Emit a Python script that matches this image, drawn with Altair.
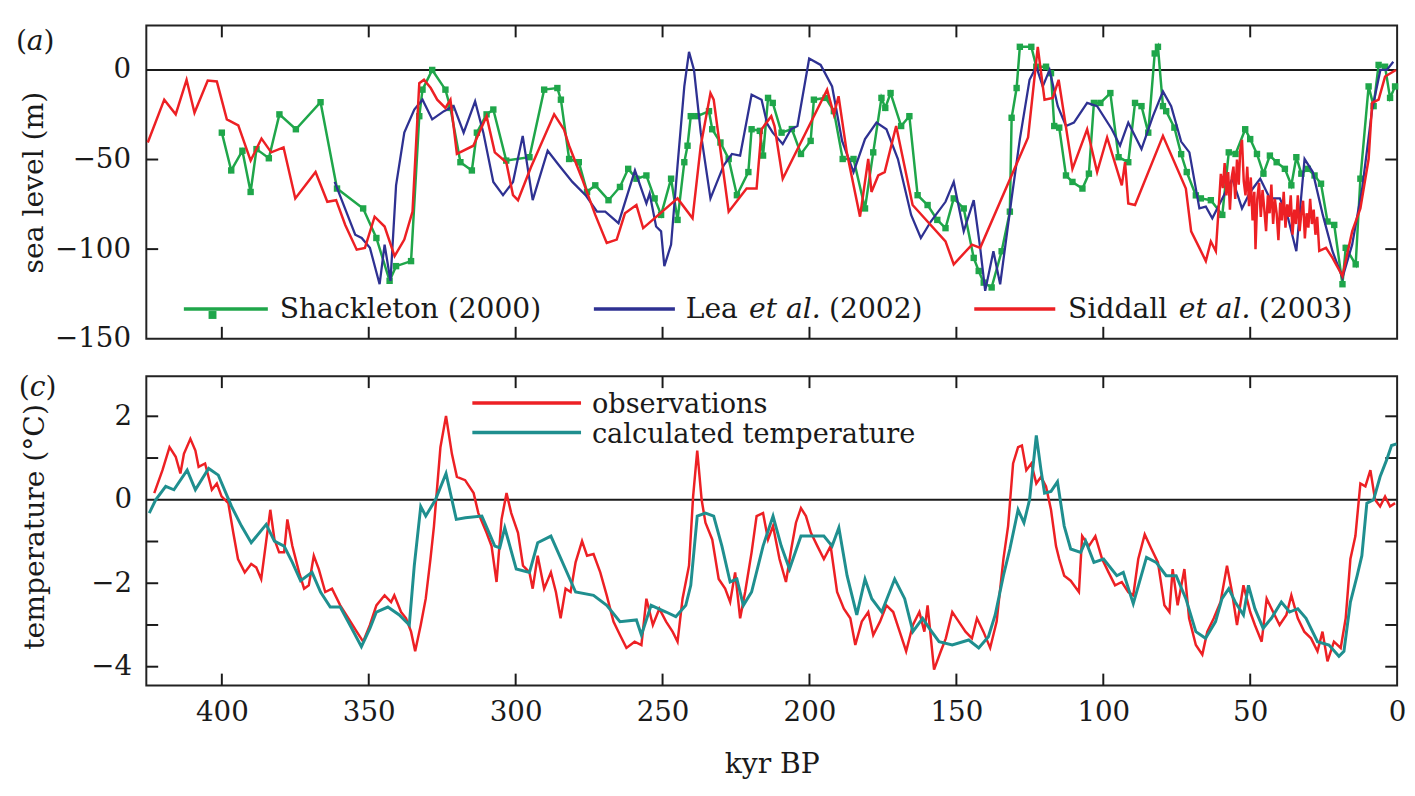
import altair as alt
import pandas as pd

# ---------------- data ----------------
shack_kyr = [400, 396.8, 393, 390.2, 388.2, 384, 380.4, 374.8, 366.4, 360.8, 351.9, 347.4, 342.9,
             340.7, 335.6, 332.8, 331.7, 328.4, 323.9, 322.2, 318.8, 314.9, 313.2, 309.9, 307.6,
             303.2, 295.3, 290.3, 285.8, 284.6, 281.8, 278.5, 275.7, 272.9, 268.4, 264.5, 261.7,
             258.9, 255.5, 252.7, 250.5, 247.1, 244.9, 242.6, 241.5, 240.4, 238.2, 234.2, 233.1,
             230.3, 227.5, 224.7, 220.8, 219.7, 216.9, 215.8, 214.1, 212.5, 209.5, 206, 202.9,
             199.6, 198.5, 194.5, 191.7, 188.7, 185, 181.1, 178.3, 175.5, 174.2, 172.4, 168.8,
             166, 163.2, 159.8, 156.5, 153.7, 150.9, 147.5, 144.1, 142.4, 140.7, 138, 134.6,
             131.8, 131.2, 129.5, 128.4, 124.5, 122.8, 119.5, 117.8, 116.7, 115, 112.7, 110.5,
             107.1, 104.9, 103.2, 101, 97.6, 94.8, 91.5, 89.2, 87, 84.7, 82.5, 81.4, 79.7, 78.6,
             75.8, 73.5, 71.6, 68.5, 66.8, 63.4, 59.5, 57.3, 55, 51.7, 50, 47.7, 45.5, 43.3, 41,
             38.2, 36, 34.3, 32.6, 30.4, 28.1, 25.9, 23.7, 21.4, 18.6, 17.5, 14.1, 12.5, 9.7, 8,
             6.3, 4.1, 2.4, 0.7]
shack_m = [-35, -56.1, -45.1, -68.1, -44.2, -49.3, -24.8, -33.1, -18, -66.2, -77.3, -93.8, -117.7,
           -109.5, -106.7, -25.8, -11, 0, -11, -21.2, -51.5, -56.1, -35, -24.8, -22.1,
           -50.6, -48.7, -11, -10.1, -16.6, -49.7, -51.5, -68.1, -64.4, -72.7, -65.3, -55.2,
           -60.7, -58.9, -71.7, -80.9, -60.7, -83.7, -51.5, -42.3, -25.8, -25.8, -23, -33.1,
           -40.5, -49.7, -69.9, -57, -33.1, -34, -47.8, -15.6, -18.4, -35, -33, -46.9,
           -39.6, -16.6, -15.6, -23, -49.7, -49.7, -77.3, -46, -15.6, -21.2, -12.9, -31.3,
           -25.8, -69.9, -75.4, -83.7, -88.3, -71.7, -77.3, -104.9, -112.2, -118.7, -121.4, -101.2,
           -79.1, -26.7, -10.1, 12.9, 12.9, 1.8, 1.8, -1.8, -31.3, -32.2, -58.9, -62.5,
           -66.2, -57.9, -18.4, -18.4, -12.9, -48.7, -51.5, -18.4, -20.2, -35, 9.2, 12.9, -20.2, -23,
           -32.2, -47, -57, -70, -71.7, -72.7, -80.9, -46, -46.9, -33.1, -38.6, -46.9, -57.9, -47.8, -51.5,
           -55.2, -64.4, -48.7, -57.9, -55.2, -58.9, -63.5, -84.6, -86.5, -119.6, -99.3, -108.5, -60.7, -9.2, -20.2,
           2.8, 1.8, -15.6, -9.2]

lea_kyr = [361.6, 354.6, 352.4, 349.6, 346.3, 344.6, 342.6, 340.7, 337.9, 334.5, 331.7, 328.4,
           324.4, 321.1, 317.7, 313.8, 311, 307.6, 304.3, 300.9, 297.6, 294.2, 289.1, 285.2,
           280.7, 276.2, 272.3, 269.5, 265, 259.4, 255.5, 254.4, 252.2, 250.5, 249.4, 247.1,
           244.9, 242.6, 241, 239.3, 237, 233.7, 229.2, 226.4, 223.6, 219.7, 216.3, 214.4,
           212.5, 209.1, 206.3, 204.1, 200.1, 196.2, 192.3, 188.9, 185, 181.1, 177.2, 173.8,
           169.9, 165.4, 162.1, 158.7, 153.7, 150.9, 147.5, 144.1, 141.9, 140.2, 137.4, 135.1,
           131.2, 128.4, 125.1, 122.8, 120.6, 118.3, 115.5, 112.7, 110, 105.5, 102.1, 97.1,
           94.3, 91.5, 87, 83.1, 79.7, 76.9, 73.5, 70.7, 67.3, 65.1, 62.9, 59.5, 56.1, 52.8,
           50, 46.6, 43.3, 39.9, 37.1, 34.3, 31.5, 28.7, 25.3, 22, 18.6, 15.3, 11.9, 8.5, 5.7,
           3.5, 1.3]
lea_m = [-62.5, -92, -93.8, -99.3, -119.6, -97.5, -117.7, -64.4, -35, -22.1, -16.6, -27.6,
         -23, -20.2, -35, -17.5, -35, -62.5, -69.9, -62.5, -36.8, -72.7, -45.1, -53.3,
         -62.5, -69.9, -79.1, -79.1, -85.5, -56.1, -74.5, -69, -87.4, -90.1, -109.5, -97.5,
         -53.3, -9.2, 10.1, 0, -35, -71.7, -53.3, -46.9, -47.8, -13.8, -16.6, -30,
         -35, -41.4, -33.1, -31.3, 6.4, 2.8, -9.2, -39.6, -57, -38.6, -29.4, -33.1,
         -49.7, -80.9, -93.8, -84.6, -73.6, -62.5, -90.1, -72.7, -99.3, -123.3, -101.2, -119.6,
         -71.7, -38.6, -5.5, 1.8, -9.2, 0, -20.2, -31.3, -29.4, -18.4, -20.2, -33.1,
         -42.3, -29.4, -44.2, -25.8, -12, -20.2, -40, -46, -77.3, -76.3, -82.8, -71.7, -60.7, -77.3,
         -68.1, -60.7, -71.7, -71.7, -82.8, -101.2, -49.7, -57, -80.9, -101.2, -115.9, -97.5, -66.2, -22.1, 0,
         0, 4.6]

sidd_kyr = [425.2, 419.6, 415.7, 412, 409.3, 404.8, 401.7, 398.3, 394.4, 390.2, 386.5, 383.2,
            379, 375, 368.1, 364.1, 361.1, 358, 354.1, 351.3, 348, 344.6, 341.2, 337.9, 335.1,
            332.8, 331.2, 328.9, 326.7, 323.9, 322.2, 320, 314.4, 309.9, 307.1, 303.2, 300.9,
            299.2, 294.8, 286.9, 283.6, 281.8, 277.4, 272.9, 269, 265.6, 262.8, 258.9, 256.6,
            244.9, 239.8, 237, 233.7, 232.6, 227.5, 221.4, 218, 216.3, 213, 211.9, 209.1, 194,
            191.7, 190.1, 187.3, 182.8, 180, 178.9, 176.6, 174.4, 170.5, 164.9, 153.7, 150.9,
            144.7, 141.9, 125.6, 122.3, 120, 117.2, 115.2, 110.5, 105.5, 102.1, 98.7, 93.7,
            92.6, 91.5, 89.2, 79.7, 71.9, 70.1, 67.3, 65.1, 63.4, 61.7,
            60.6, 60.0, 59.3, 58.7, 58.1, 57.5, 56.9, 56.3, 55.7, 55.1, 54.5, 53.9, 53.4, 52.8,
            52.2, 51.6, 51.0, 50.4, 49.8, 49.2, 48.6, 48.2, 47.6, 47.0, 46.4, 45.8, 45.2, 44.6,
            44.0, 43.4, 42.8, 42.2, 41.6, 41.0, 40.4, 39.8, 39.2, 38.6, 38.0, 37.4, 36.8, 36.2,
            35.6, 35.0, 34.4, 33.8, 33.2, 32.6, 32.0, 31.4, 30.8, 30.2, 29.6, 29.0, 28.4, 27.8,
            27.2, 26.5, 24.2, 22, 18.6, 15.3, 12.5, 9.7, 8.5, 6.3, 4.1, 0.4]
sidd_m = [-40.5, -16.6, -24.8, -5.5, -23.9, -5.9, -6.4, -27.6, -30.9, -50.6, -38.3, -46,
          -43.2, -71.7, -57, -73.6, -72.7, -86.5, -100.3, -99.3, -81.9, -87.4, -103.9, -94.7, -79.1,
          -7.4, -5.5, -10.1, -16.6, -21.2, -16.6, -46.9, -42.3, -25.8, -46, -51.5, -69.9,
          -72.7, -54.3, -24.8, -33.1, -42.3, -60.7, -80.9, -96.6, -94.7, -80, -75.4, -88.3,
          -71.7, -82.8, -42.3, -12.9, -16.6, -79.1, -66.2, -66.2, -33.1, -25.8, -31.3, -60.7, -11,
          -24.8, -14.7, -46, -81.9, -49.7, -68.1, -58.9, -57, -31.3, -75.4, -95.7, -108.5,
          -97.5, -99.3, -37.7, 12.9, -16.6, -15.6, -5.5, -55.2, -33.1, -57, -37.7, -64.4,
          -51.5, -74.5, -75.4, -36.8, -66.2, -90.1, -99.3, -106.7, -95.7, -101.2,
          -73.6, -58, -66, -52, -70, -57, -78, -60, -54, -72, -50, -64, -45, -39,
          -62, -70, -54, -76, -60, -84, -68, -100, -72, -63, -82, -67, -78, -90,
          -70, -80, -64, -86, -72, -80, -95, -74, -84, -68, -88, -75, -82, -70,
          -92, -78, -86, -70, -90, -80, -73, -94, -80, -88, -72, -86, -78, -92,
          -82, -101, -99.3, -104.9, -115, -90.1, -77.3, -49.7, -18.4, -16.6, -3.7, 0]

obs_kyr = [423, 420.2, 417.8, 415.7, 414.1, 412.9, 410.7, 409, 407.9, 405.7, 403.4, 401.7, 400.1,
           397.8, 396.1, 394.5, 392.2, 390, 388.3, 386.6, 384.9, 383.5, 382.1, 380.5, 378.8,
           377.7, 376, 373.7, 372, 370.4, 368.7, 367, 364.8, 362.5, 359.7, 356.9, 354.1, 351.9,
           349.6, 347.4, 344.6, 342.4, 341.3, 339, 337.3, 335.6, 334.2, 332.3, 330.6, 329,
           327.8, 325.6, 323.7, 321.7, 320, 317.2, 314.3, 312.7, 309.9, 308.2, 306.5, 304.8,
           303.1, 301.5, 299.2, 297.5, 295.3, 294.2, 292.5, 290.3, 288, 286.3, 284.7, 283,
           281.3, 279.6, 277.4, 275.7, 273.5, 271.2, 269, 266.7, 264.5, 262.3, 259.5, 257.2,
           255.5, 253.3, 251.1, 248.8, 246.6, 244.9, 243.2, 241, 239.6, 238.2, 236.7, 235.4,
           233.1, 230.9, 228.7, 227, 225.3, 223.6, 221.9, 219.7, 218, 215.8, 214.1, 212.4,
           210.2, 208, 206.2, 204.6, 202.9, 201.2, 199.5, 197.3, 195.1, 192.8, 190.6, 188.3,
           186.1, 184.4, 182.2, 180, 178.3, 176, 173.8, 171.5, 169.3, 167.1, 164.8, 162.6,
           160.9, 159.8, 157.6, 155.3, 153.6, 151.4, 149.2, 146.9, 144.7, 143, 140.8, 138.5,
           136.3, 134, 132.4, 130.7, 129, 127.7, 126.2, 124.5, 122.8, 121.2, 119.5, 117.8,
           116.1, 115, 113.3, 111.1, 108.3, 107.2, 104.9, 102.7, 100.4, 98.2, 96, 93.7, 91.5,
           89.8, 88.1, 85.9, 83.6, 81.4, 79.2, 77.5, 76.4, 74.7, 72.4, 70.8, 68.5, 66.3, 64.6,
           62.4, 60.1, 57.9, 56.2, 54.5, 52.3, 50, 48.4, 46.1, 44.4, 42.2, 40, 37.7, 36, 33.8,
           31.6, 29.3, 27.1, 25.4, 23.7, 21.5, 19.2, 17.5, 15.9, 14.2, 12.5, 10.8, 9.1, 7.5,
           5.8, 4.1, 2.4, 0.7]
obs_t = [0.16, 0.71, 1.26, 1.03, 0.63, 1.1, 1.46, 1.18, 0.79, 0.87, 0.24, 0.39, 0.08,
         -0.08, -0.79, -1.42, -1.74, -1.54, -1.62, -1.9, -0.99, -0.24, -0.95, -1.26, -1.26,
         -0.47, -1.11, -1.74, -2.13, -2.05, -1.34, -1.66, -2.21, -2.13, -2.53, -2.84, -3.16, -3.4,
         -3.0, -2.53, -2.29, -2.45, -2.29, -2.69, -2.84, -3.16, -3.63, -3.0, -2.37, -1.42,
         -0.63, 1.26, 2.01, 1.1, 0.55, 0.47, 0.16, -0.32, -0.79, -1.11, -1.97, -0.47,
         0.16, -0.32, -0.79, -1.58, -1.74, -2.13, -1.34, -2.13, -1.74, -2.21, -2.84, -2.13,
         -2.21, -1.5, -0.99, -1.34, -1.3, -1.74, -2.29, -2.92, -3.24, -3.55, -3.4, -3.48,
         -2.37, -3.0, -2.61, -2.92, -3.16, -3.4, -2.37, -1.58, 0.08, 1.18, 0, -0.55,
         -0.95, -1.9, -2.13, -2.45, -1.74, -2.84, -2.21, -1.26, -0.39, -0.32, -0.95, -0.63,
         -1.42, -1.97, -1.18, -0.55, -0.2, -0.39, -0.79, -1.11, -1.42, -1.11, -2.21, -2.61,
         -2.84, -3.48, -2.92, -2.69, -3.24, -2.92, -2.53, -2.69, -3.16, -3.63, -3.0, -2.69,
         -3.16, -2.53, -4.07, -3.63, -3.32, -2.69, -2.92, -3.16, -3.32, -2.84, -3.16, -3.55,
         -2.92, -1.42, -0.63, 0.87, 1.26, 1.3, 0.71, 0.87, 0.39, 0.55, 0.32, -0.24,
         -1.11, -1.42, -1.82, -1.94, -2.21, -0.87, -1.11, -0.87, -1.42, -1.74, -2.05, -1.97, -2.21,
         -2.29, -1.42, -0.83, -1.18, -1.5, -2.53, -2.69, -1.66, -2.53, -1.66, -2.84, -3.48, -3.71, -3.16,
         -2.84, -2.45, -1.58, -2.21, -3.0, -2.05, -2.69, -3.0, -3.4, -2.37, -2.69, -3.0, -2.76, -2.29, -2.84,
         -3.16, -3.32, -3.63, -3.16, -3.87, -3.4, -3.55, -2.84, -1.42, -0.87, 0.39, 0.32, 0.71, 0,
         -0.16, 0.08, -0.16, -0.08]

calc_kyr = [424.7, 422.5, 419.1, 416.3, 411.8, 409, 404.5, 401.2, 396.7, 393.3, 390, 384.9,
            382.1, 378.8, 376, 373.2, 369.3, 366.4, 363.1, 359.7, 356.4, 352.5, 349.6, 347.4,
            343.5, 339.6, 336.2, 334.5, 332.3, 330.6, 327.3, 323.7, 320.2, 317.1, 311.5, 307.1,
            305.4, 303.7, 299.8, 295.3, 292.5, 288, 279.6, 273.5, 269, 264.5, 258.9, 257.2,
            253.9, 248.8, 245.5, 242.1, 240.4, 238.2, 235.4, 232.6, 229.8, 227, 224.7, 222.5,
            219.7, 215.8, 212.4, 209.6, 206.8, 202.9, 199.5, 195.1, 192.3, 190, 187.2, 183.9,
            181.1, 178.8, 175.4, 171, 167.6, 164.8, 161.5, 159.2, 155.9, 151.4, 145.8, 142.4,
            139.1, 136.8, 134, 131.8, 129, 127, 125.1, 122.8, 121.2, 120, 117.8, 115.6, 113.3,
            111.1, 107.7, 106, 103.2, 99.9, 95.4, 93.2, 89.8, 85.3, 82, 78.6, 75.2, 71.9, 68.5,
            65.2, 61.8, 59.6, 57.3, 55.1, 52.3, 50.6, 48.4, 45.6, 42.8, 39.4, 36.6, 33.8, 31,
            27.1, 23.2, 19.8, 18.1, 15.9, 13.6, 12, 10.3, 8, 5.8, 3.6, 1.9, 0.2]
calc_t = [-0.32, 0, 0.32, 0.24, 0.71, 0.24, 0.75, 0.59, -0.16, -0.63, -1.03, -0.59,
          -0.99, -1.11, -1.5, -1.94, -1.74, -2.21, -2.57, -2.57, -3.0, -3.52, -3.08, -2.69,
          -2.57, -2.76, -3.0, -1.58, -0.16, -0.39, 0, 0.63, -0.47, -0.43, -0.39, -1.11,
          -1.15, -0.67, -1.66, -1.74, -1.03, -0.87, -2.21, -2.29, -2.53, -2.92, -2.88, -3.24,
          -2.53, -2.69, -2.8, -2.53, -2.05, -0.39, -0.32, -0.39, -1.11, -1.97, -1.9, -2.53,
          -2.21, -1.11, -0.39, -1.11, -1.66, -0.87, -0.87, -0.87, -1.11, -0.67, -1.82, -2.76,
          -1.9, -2.37, -2.69, -1.9, -2.37, -3.16, -2.84, -3.08, -3.4, -3.48, -3.36, -3.55,
          -3.28, -2.76, -1.82, -1.18, -0.24, -0.55, 0, 1.54, 0.71, 0.16, 0.2, 0.43, -0.63,
          -1.18, -1.26, -0.99, -1.5, -1.42, -1.82, -1.74, -2.49, -1.38, -1.5, -1.82, -1.82, -2.37, -3.16,
          -3.32, -2.92, -2.37, -2.13, -2.45, -2.76, -2.05, -2.61, -3.08, -2.84, -2.45, -2.69, -2.61, -2.84,
          -3.4, -3.48, -3.75, -3.63, -2.45, -1.82, -1.34, -0.08, 0, 0.55, 0.95, 1.3, 1.34]

x_tick_vals = [400, 350, 300, 250, 200, 150, 100, 50]
x_label_vals = [400, 350, 300, 250, 200, 150, 100, 50, 0]
sea_label_vals = [0, -50, -100, -150]
sea_tick_vals = [-50, -100]
temp_label_vals = [2, 0, -2, -4]
temp_tick_vals = [2, 1, -1, -2, -3, -4]

# ---------------- styling ----------------
W = 1266
H1 = 317
H2 = 313
TICK = 12
FONT = "DejaVu Serif"
INK = "#1a1a1a"
GREEN = "#1fa64a"
BLUE = "#2e3192"
RED = "#ed2024"
TEAL = "#1f8f8f"
LEG = 28.5

xscale = alt.Scale(domain=[425.7, 0], nice=False, zero=False)
yscale_top = alt.Scale(domain=[-150, 24.8], nice=False, zero=False)
yscale_bot = alt.Scale(domain=[-4.45, 2.96], nice=False, zero=False)

common_axis = dict(grid=False, domain=False, ticks=False, tickSize=0,
                   labelFont=FONT, titleFont=FONT, labelFontSize=28, titleFontSize=28.5,
                   titleFontWeight="normal", labelColor=INK, titleColor=INK)

y_axis_top = alt.Axis(values=sea_label_vals, title="sea level (m)", labelPadding=16,
                      titleX=-114, titleY=H1 / 2, titleAngle=270, titleAlign="center",
                      titleBaseline="middle", **common_axis)
y_axis_bot = alt.Axis(values=temp_label_vals, title="temperature (°C)", labelPadding=15,
                      titleX=-113, titleY=152, titleAngle=270, titleAlign="center",
                      titleBaseline="middle", **common_axis)
x_axis_bot = alt.Axis(values=x_label_vals, title="kyr BP", format="d", labelPadding=35,
                      labelBaseline="alphabetic", labelFlush=False, labelOverlap=False,
                      titleX=W / 2, titleY=88, titleBaseline="alphabetic", **common_axis)

X_top = alt.X("kyr:Q", scale=xscale, axis=None)
Y_top = alt.Y("v:Q", scale=yscale_top, axis=y_axis_top)
X_bot = alt.X("kyr:Q", scale=xscale, axis=x_axis_bot)
Y_bot = alt.Y("v:Q", scale=yscale_bot, axis=y_axis_bot)


def df(k, v):
    return pd.DataFrame({"kyr": k, "v": v})


one = pd.DataFrame({"a": [0]})


def txt(s, x, y, italic=False, size=LEG, align="left"):
    kw = dict(font=FONT, fontSize=size, color=INK, align=align, baseline="alphabetic")
    if italic:
        kw["fontStyle"] = "italic"
    return alt.Chart(one).mark_text(**kw).encode(x=alt.value(x), y=alt.value(y), text=alt.value(s))


def hline(x1, x2, y, color, w):
    return alt.Chart(one).mark_rule(color=color, strokeWidth=w).encode(
        x=alt.value(x1), x2=alt.value(x2), y=alt.value(y))


def frame_ticks(X, Y, H, yticks):
    xt = pd.DataFrame({"kyr": x_tick_vals})
    yt = pd.DataFrame({"v": yticks})
    r = dict(color=INK, strokeWidth=2)
    return [
        alt.Chart(xt).mark_rule(**r).encode(x=X, y=alt.value(0), y2=alt.value(TICK)),
        alt.Chart(xt).mark_rule(**r).encode(x=X, y=alt.value(H - TICK), y2=alt.value(H)),
        alt.Chart(yt).mark_rule(**r).encode(y=Y, x=alt.value(0), x2=alt.value(TICK)),
        alt.Chart(yt).mark_rule(**r).encode(y=Y, x=alt.value(W - TICK), x2=alt.value(W)),
        alt.Chart(pd.DataFrame({"v": [0]})).mark_rule(color=INK, strokeWidth=2).encode(y=Y),
    ]


# ---------------- top panel ----------------
top_layers = frame_ticks(X_top, Y_top, H1, sea_tick_vals)
top_layers += [
    alt.Chart(df(shack_kyr, shack_m)).mark_line(color=GREEN, strokeWidth=2.5).encode(x=X_top, y=Y_top),
    alt.Chart(df(shack_kyr, shack_m)).mark_square(color=GREEN, size=42, opacity=1).encode(x=X_top, y=Y_top),
    alt.Chart(df(lea_kyr, lea_m)).mark_line(color=BLUE, strokeWidth=2.3).encode(x=X_top, y=Y_top),
    alt.Chart(df(sidd_kyr, sidd_m)).mark_line(color=RED, strokeWidth=2.5).encode(x=X_top, y=Y_top),
    # legend
    hline(38, 123, 287, GREEN, 3.5),
    alt.Chart(one).mark_square(color=GREEN, size=64, opacity=1).encode(x=alt.value(67), y=alt.value(293)),
    txt("Shackleton (2000)", 135, 296),
    hline(453, 535, 287, BLUE, 3.5),
    txt("Lea", 546, 296), txt("et al.", 610, 296, italic=True), txt("(2002)", 691, 296),
    hline(838, 920, 287, RED, 3.5),
    txt("Siddall", 933, 296), txt("et al.", 1045, 296, italic=True), txt("(2003)", 1126, 296),
    # panel label
    txt("(", -132, 25), txt("a", -121, 25, italic=True), txt(")", -104, 25),
]
top = alt.layer(*top_layers).properties(width=W, height=H1)

# ---------------- bottom panel ----------------
bot_layers = frame_ticks(X_bot, Y_bot, H2, temp_tick_vals)
bot_layers += [
    alt.Chart(df(obs_kyr, obs_t)).mark_line(color=RED, strokeWidth=2.5).encode(x=X_bot, y=Y_bot),
    alt.Chart(df(calc_kyr, calc_t)).mark_line(color=TEAL, strokeWidth=3).encode(x=X_bot, y=Y_bot),
    hline(330, 440, 27, RED, 3.5),
    txt("observations", 451, 37, size=27.5),
    hline(330, 440, 57, TEAL, 3.5),
    txt("calculated temperature", 451, 68, size=27.5),
    txt("(", -129, 20), txt("c", -118, 20, italic=True), txt(")", -102, 20),
]
bottom = alt.layer(*bot_layers).properties(width=W, height=H2)

chart = alt.vconcat(top, bottom, spacing=38, bounds="flush").properties(
    padding={"left": 7, "top": 11, "right": 0, "bottom": 0},
    background="white",
).configure_view(stroke="#222222", strokeWidth=2)

chart.save("out.html", embed_options={"renderer": "svg", "actions": False})
